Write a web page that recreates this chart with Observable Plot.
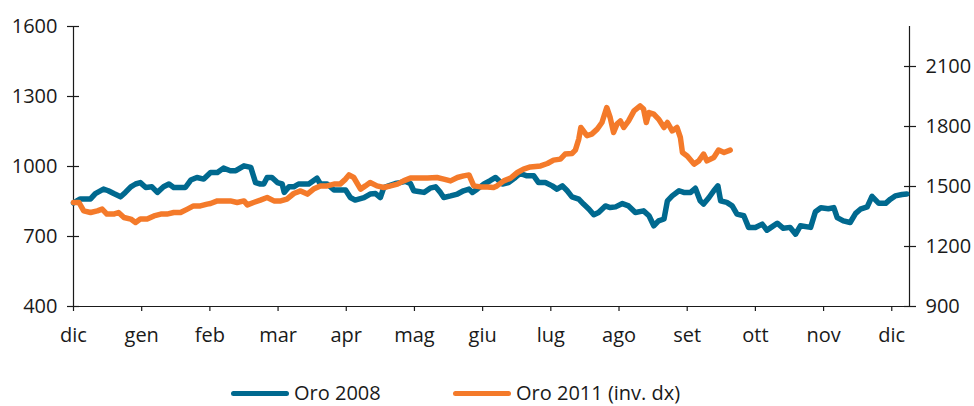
<!DOCTYPE html>
<html>
<head>
<meta charset="utf-8">
<script src="https://cdn.jsdelivr.net/npm/d3@7"></script>
<script src="https://cdn.jsdelivr.net/npm/@observablehq/plot@0.6"></script>
<style>
  html, body { margin: 0; padding: 0; background: #fff; }
  body { width: 974px; height: 406px; overflow: hidden; font-family: "Open Sans", sans-serif; color: #1a1a1a; }
  #legend { position: relative; height: 36px; font-size: 20px; }
  .item { position: absolute; top: 12px; height: 20px; display: flex; align-items: center; white-space: nowrap; }
  .sw { width: 58px; height: 5px; border-radius: 3px; margin-right: 5px; position: relative; top: 1px; }
  .tx { position: relative; top: 0px; }
</style>
</head>
<body>
<div id="chart"></div>
<div id="legend"></div>
<script>
// Month tick labels (evenly spaced months, position = month index)
const months = ["dic","gen","feb","mar","apr","mag","giu","lug","ago","set","ott","nov","dic"];

// Oro 2008 (left axis) — position in months from start, value
const m2008 = [0.00,0.10,0.25,0.32,0.44,0.51,0.59,0.69,0.76,0.84,0.91,0.98,1.06,1.15,1.23,1.32,1.40,1.47,1.57,1.64,1.72,1.81,1.91,2.01,2.11,2.20,2.30,2.38,2.50,2.60,2.67,2.74,2.79,2.84,2.91,2.99,3.06,3.09,3.16,3.23,3.30,3.38,3.45,3.57,3.62,3.72,3.82,3.91,3.99,4.06,4.13,4.26,4.35,4.43,4.50,4.55,4.62,4.72,4.79,4.87,4.94,4.99,5.06,5.14,5.23,5.31,5.38,5.43,5.53,5.63,5.72,5.80,5.85,5.92,6.02,6.11,6.19,6.29,6.38,6.48,6.55,6.65,6.75,6.82,6.92,7.02,7.09,7.17,7.24,7.31,7.41,7.48,7.56,7.63,7.70,7.80,7.87,7.95,8.05,8.14,8.24,8.36,8.44,8.51,8.58,8.66,8.71,8.78,8.88,8.95,9.05,9.12,9.19,9.24,9.32,9.39,9.45,9.49,9.58,9.66,9.73,9.83,9.90,10.00,10.10,10.17,10.22,10.32,10.41,10.51,10.59,10.66,10.81,10.88,10.96,11.07,11.15,11.20,11.29,11.39,11.47,11.54,11.64,11.71,11.81,11.91,11.98,12.05,12.15,12.22];
const v2008 = [844,861,861,884,903,896,884,870,889,913,925,931,910,913,889,913,925,910,910,910,942,953,946,974,974,993,982,982,1003,996,931,925,925,953,953,931,925,889,913,913,925,925,925,950,925,925,899,899,899,867,856,867,882,884,867,910,917,927,931,936,927,896,893,889,907,913,889,867,874,882,896,903,889,903,925,939,953,925,931,953,970,960,960,931,931,917,903,917,896,870,860,839,817,793,803,831,824,827,841,831,803,810,789,746,767,775,853,874,896,889,889,907,853,839,867,896,917,853,846,831,796,789,739,739,753,727,737,757,735,739,710,746,739,806,823,819,824,781,767,760,799,817,827,872,842,842,860,874,880,882];

// Oro 2011 (right axis, "inv. dx")
const m2011 = [0.00,0.08,0.15,0.25,0.35,0.42,0.49,0.59,0.66,0.74,0.84,0.91,0.98,1.08,1.18,1.28,1.37,1.47,1.57,1.67,1.76,1.86,1.96,2.01,2.11,2.20,2.30,2.40,2.50,2.55,2.64,2.74,2.84,2.94,3.04,3.13,3.23,3.33,3.43,3.52,3.62,3.72,3.82,3.91,3.99,4.04,4.11,4.21,4.28,4.35,4.45,4.55,4.65,4.75,4.84,4.94,5.04,5.19,5.33,5.43,5.53,5.63,5.72,5.80,5.87,5.97,6.07,6.16,6.21,6.31,6.41,6.51,6.60,6.70,6.85,6.95,7.04,7.14,7.21,7.31,7.36,7.41,7.44,7.53,7.60,7.68,7.75,7.82,7.87,7.92,7.97,8.02,8.07,8.14,8.22,8.31,8.36,8.40,8.44,8.51,8.58,8.66,8.71,8.78,8.85,8.90,8.93,9.00,9.10,9.17,9.24,9.29,9.39,9.46,9.54,9.63];
const v2011 = [1420,1420,1378,1370,1378,1387,1362,1362,1370,1345,1337,1320,1337,1337,1353,1362,1362,1370,1370,1387,1403,1403,1412,1415,1428,1428,1428,1420,1428,1408,1420,1432,1445,1428,1428,1437,1465,1478,1462,1487,1503,1503,1512,1512,1537,1558,1545,1487,1503,1520,1503,1495,1503,1512,1528,1542,1542,1542,1545,1537,1528,1545,1553,1558,1503,1498,1498,1495,1503,1528,1542,1570,1587,1598,1603,1615,1632,1637,1662,1665,1682,1737,1795,1754,1762,1787,1820,1895,1845,1770,1812,1828,1795,1828,1878,1903,1887,1820,1870,1862,1837,1795,1820,1778,1795,1745,1670,1653,1612,1628,1662,1628,1645,1682,1670,1682];

const leftTicks = [400, 700, 1000, 1300, 1600];
const rightTicks = [900, 1200, 1500, 1800, 2100];
const series = [
  {name: "Oro 2008", color: "#00698f"},
  {name: "Oro 2011 (inv. dx)", color: "#f47a2a"}
];

const toLeft = d3.scaleLinear([900, 2300], [400, 1600]);
const d2008 = m2008.map((m, i) => ({m, v: v2008[i]}));
const d2011 = m2011.map((m, i) => ({m, v: toLeft(v2011[i])}));
const xMax = 12.26;
const ink = "#1a1a1a";

const chart = Plot.plot({
  width: 974,
  height: 370,
  marginLeft: 73,
  marginRight: 65,
  marginTop: 26,
  marginBottom: 64,
  x: {domain: [0, xMax]},
  y: {domain: [400, 1600]},
  style: {fontFamily: "'Open Sans', sans-serif", fontSize: "20px", color: ink, background: "#fff"},
  marks: [
    Plot.ruleX([0], {stroke: ink, strokeWidth: 1.2}),
    Plot.ruleX([xMax], {stroke: ink, strokeWidth: 1.2}),
    Plot.ruleY([400], {stroke: ink, strokeWidth: 1.2}),
    Plot.axisY(leftTicks, {anchor: "left", tickSize: 6, tickPadding: 10, stroke: ink, strokeWidth: 1.2, fill: ink, label: null, tickFormat: d => String(d)}),
    Plot.axisY(leftTicks, {anchor: "left", tickSize: 6, dx: 6, text: null, stroke: ink, strokeWidth: 1.2, label: null}),
    Plot.axisY(rightTicks.map(toLeft), {anchor: "right", tickSize: 6, tickPadding: 10, stroke: ink, strokeWidth: 1.2, fill: ink, label: null, tickFormat: d => String(Math.round(toLeft.invert(d)))}),
    Plot.axisY(rightTicks.map(toLeft), {anchor: "right", tickSize: 6, dx: -6, text: null, stroke: ink, strokeWidth: 1.2, label: null}),
    Plot.axisX(d3.range(13), {anchor: "bottom", tickSize: 5, tickPadding: 16, stroke: ink, strokeWidth: 1.2, fill: ink, label: null, tickFormat: i => months[i]}),
    Plot.line(d2008, {x: "m", y: "v", stroke: series[0].color, strokeWidth: 5.5, strokeLinejoin: "round", strokeLinecap: "round"}),
    Plot.line(d2011, {x: "m", y: "v", stroke: series[1].color, strokeWidth: 5.5, strokeLinejoin: "round", strokeLinecap: "round"})
  ]
});
document.getElementById("chart").appendChild(chart);

const legend = document.getElementById("legend");
const lefts = [231, 453];
series.forEach((s, i) => {
  const it = document.createElement("div");
  it.className = "item";
  it.style.left = lefts[i] + "px";
  const sw = document.createElement("span");
  sw.className = "sw";
  sw.style.background = s.color;
  const tx = document.createElement("span");
  tx.className = "tx";
  tx.textContent = s.name;
  it.appendChild(sw);
  it.appendChild(tx);
  legend.appendChild(it);
});
</script>
</body>
</html>
